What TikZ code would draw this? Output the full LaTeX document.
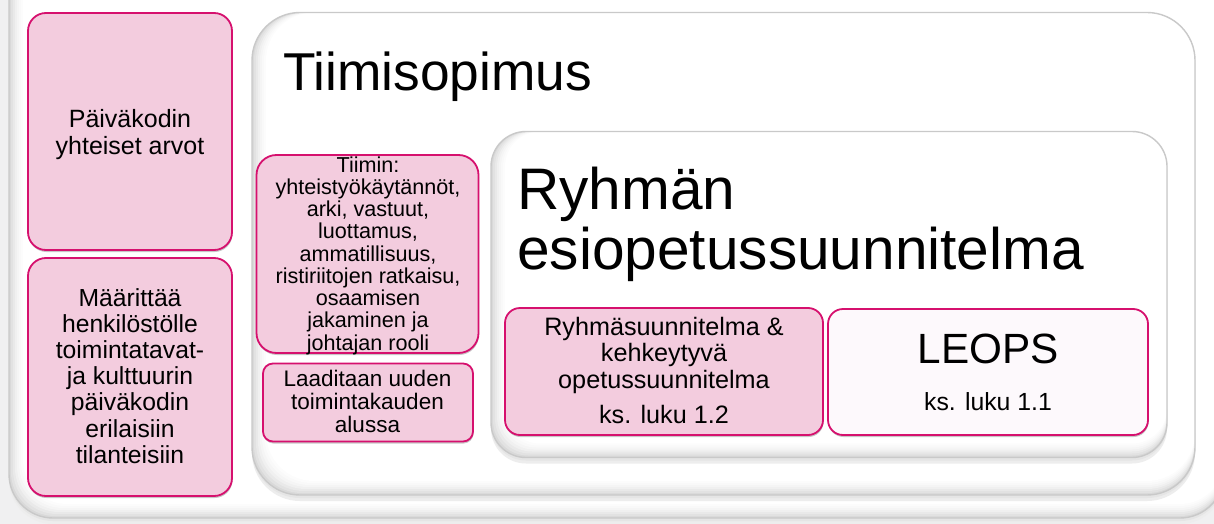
\documentclass[tikz,border=0pt]{standalone}
\usepackage{fontspec}
\setmainfont{Liberation Sans}
\usetikzlibrary{shadows}
\definecolor{pinkfill}{RGB}{243,204,222}
\definecolor{pinkline}{RGB}{214,16,110}
\definecolor{leopsfill}{RGB}{253,249,252}
\definecolor{pagebg}{RGB}{240,240,241}
\newcommand\mltext[2][c]{\begin{tabular}[t]{@{}#1@{}}#2\end{tabular}}
\newcommand\bevelframe[6]{%
  \fill[gray!14, rounded corners=#6pt] (#2,#3+6) rectangle (#4,#5+6);
  \fill[gray!20, rounded corners=#6pt] (#2,#3+3) rectangle (#4,#5+3);
  \foreach \gk/\gc in {0/30,2/23,4/17,6/12,8/8,10/5,12/2,14/0}{
    \fill[gray!\gc!white, rounded corners=#6pt] (#2+\gk,#3) rectangle (#4,#5-\gk);}
  \draw[framedge, rounded corners=#6pt] (#2,#3) coordinate (#1-nw) rectangle (#4,#5) coordinate (#1-se);
}
\tikzset{
  framedge/.style={draw=gray!42, line width=1.4pt},
  pinkbox/.style={rectangle, draw=pinkline, line width=1.8pt, fill=pinkfill,
    inner sep=0pt, drop shadow={shadow xshift=0.5pt, shadow yshift=-2pt, fill=black, opacity=0.22}},
  txt/.style={inner sep=0pt, anchor=base, text=black},
}
\begin{document}
\begin{tikzpicture}[x=1pt, y=-1pt]
\useasboundingbox (0,0) rectangle (1214,524);
\clip (0,0) rectangle (1214,524);
\fill[pagebg] (0,0) rectangle (1214,524);

% frames
\bevelframe{outer}{9}{-100}{1224}{518}{44}
\bevelframe{tiimi}{252}{12.5}{1195}{495}{48}
\bevelframe{ryhma}{491}{131.5}{1167}{457.5}{35}

% pink boxes
\node[pinkbox, rounded corners=18pt, minimum width=204pt, minimum height=237pt] (b1) at (130,131.5) {};
\node[pinkbox, rounded corners=18pt, minimum width=204pt, minimum height=238pt] (b2) at (130,377) {};
\node[pinkbox, rounded corners=20pt, minimum width=222pt, minimum height=198pt] (b3) at (367.5,254) {};
\node[pinkbox, rounded corners=10pt, minimum width=210pt, minimum height=78pt] (b4) at (368,402.5) {};
\node[pinkbox, rounded corners=15pt, minimum width=318pt, minimum height=127pt] (b5) at (664,371.5) {};
\node[pinkbox, fill=leopsfill, rounded corners=15pt, minimum width=320pt, minimum height=126pt] (b6) at (988,372) {};

% texts
\node[txt, anchor=base west, font=\fontsize{53.3}{53}\selectfont] (title) at (283,91) {Tiimisopimus};
\node[txt, anchor=base west, font=\fontsize{58.6}{59}\selectfont] (ryhman) at (517,209.3) {\mltext[l]{Ryhmän\\esiopetussuunnitelma}};

\node[txt, font=\fontsize{25}{26.3}\selectfont] (t1) at (130,127.7) {\mltext{Päiväkodin\\yhteiset arvot}};
\node[txt, font=\fontsize{24.7}{26.2}\selectfont] (t2) at (130,306) {\mltext{Määrittää\\henkilöstölle\\toimintatavat-\\ja kulttuurin\\päiväkodin\\erilaisiin\\tilanteisiin}};
\node[txt, font=\fontsize{21.6}{22.04}\selectfont] (t3) at (368,172) {\mltext{Tiimin:\\yhteistyökäytännöt,\\arki, vastuut,\\luottamus,\\ammatillisuus,\\ristiriitojen ratkaisu,\\osaamisen\\jakaminen ja\\johtajan rooli}};
\node[txt, font=\fontsize{22.5}{21.7}\selectfont] (t4) at (367.5,386.7) {\mltext{Laaditaan uuden\\toimintakauden\\alussa}};
\node[txt, font=\fontsize{25.2}{26.7}\selectfont] (t5) at (664,335) {\mltext{Ryhmäsuunnitelma \&\\kehkeytyvä\\opetussuunnitelma\\[8.3pt]ks. luku 1.2}};
\node[txt, font=\fontsize{24.8}{26}\selectfont] (t6) at (988,363) {\mltext{{\fontsize{42.3}{42}\selectfont LEOPS}\\[21pt]ks. luku 1.1}};
\end{tikzpicture}
\end{document}
